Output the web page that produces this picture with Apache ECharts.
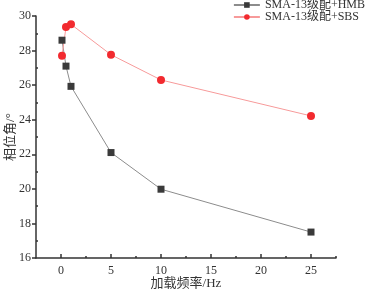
<!DOCTYPE html>
<html>
<head>
<meta charset="utf-8">
<script src="https://cdn.jsdelivr.net/npm/echarts@6/dist/echarts.min.js"></script>
<style>html,body{margin:0;padding:0;background:#fff}#chart{width:368px;height:292px}</style>
</head>
<body>
<div id="chart"></div>
<script>
// 数据
const freq = [0.1, 0.5, 1, 5, 10, 25];
const hmb = [28.6, 27.1, 25.93, 22.1, 19.98, 17.5];
const sbs = [27.7, 29.36, 29.52, 27.76, 26.3, 24.22];
const xMajor = [0, 5, 10, 15, 20, 25];
const xMinor = [2.5, 7.5, 12.5, 17.5, 22.5, 27.5];
const yMinor = [17, 19, 21, 23, 25, 27, 29];
const names = ['SMA-13级配+HMB', 'SMA-13级配+SBS'];

const font = '"Liberation Serif", "Noto Sans CJK SC", serif';
const axisColor = '#333';

let chart = echarts.init(document.getElementById('chart'));
chart.setOption({
    animation: false,
    textStyle: {fontFamily: font},
    grid: {left: 36, right: 32, top: 16, bottom: 34, containLabel: false, outerBoundsMode: 'none'},
    legend: {
        top: -1, right: 1, orient: 'vertical', itemWidth: 26, itemHeight: 7, itemGap: 0,
        padding: [0, 2, 0, 2],
        textStyle: {fontFamily: font, fontSize: 12, color: '#333'},
        data: names
    },
    xAxis: [{
        type: 'value', min: -2.5, max: 27.5,
        name: '加载频率/Hz', nameLocation: 'middle', nameGap: 19, nameMoveOverlap: false,
        nameTextStyle: {fontFamily: font, fontSize: 13, color: '#333'},
        axisLine: {onZero: false, lineStyle: {color: axisColor, width: 1.5}},
        axisTick: {inside: true, length: 4, customValues: xMajor, lineStyle: {color: axisColor, width: 1.5}},
        axisLabel: {customValues: xMajor, fontFamily: font, fontSize: 12, color: '#333', margin: 7},
        splitLine: {show: false}
    }, {
        type: 'value', min: -2.5, max: 27.5, position: 'bottom',
        axisLine: {show: false, onZero: false},
        axisTick: {inside: true, length: 2, customValues: xMinor, lineStyle: {color: axisColor, width: 1.5}},
        axisLabel: {show: false},
        splitLine: {show: false}
    }],
    yAxis: [{
        type: 'value', min: 16, max: 30, interval: 2,
        name: '相位角/°', nameLocation: 'middle', nameGap: 19, nameMoveOverlap: false,
        nameTextStyle: {fontFamily: font, fontSize: 13, color: '#333'},
        axisLine: {show: true, onZero: false, lineStyle: {color: axisColor, width: 1.5}},
        axisTick: {show: true, inside: false, length: 4, lineStyle: {color: axisColor, width: 1.5}},
        axisLabel: {fontFamily: font, fontSize: 12, color: '#333', margin: 5},
        splitLine: {show: false}
    }, {
        type: 'value', min: 16, max: 30, position: 'left',
        axisLine: {show: false, onZero: false},
        axisTick: {show: true, inside: true, length: 2, customValues: yMinor, lineStyle: {color: axisColor, width: 1.5}},
        axisLabel: {show: false},
        splitLine: {show: false}
    }],
    series: [{
        name: names[0], type: 'line',
        data: freq.map((f, i) => [f, hmb[i]]),
        symbol: 'rect', symbolSize: 7,
        itemStyle: {color: '#3a3a3a'},
        lineStyle: {color: '#8c8c8c', width: 1}
    }, {
        name: names[1], type: 'line',
        data: freq.map((f, i) => [f, sbs[i]]),
        symbol: 'circle', symbolSize: 8,
        itemStyle: {color: '#f22a2f'},
        lineStyle: {color: '#f79a9a', width: 1}
    }]
});
</script>
</body>
</html>
